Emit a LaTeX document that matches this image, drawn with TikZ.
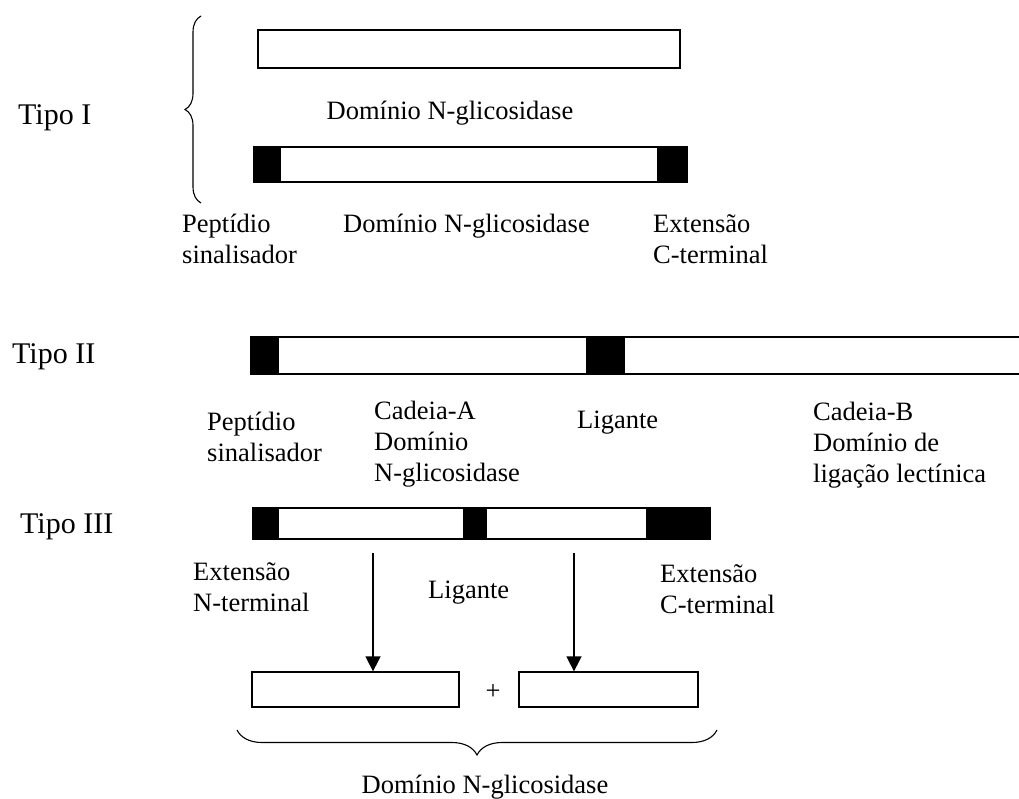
\documentclass[tikz,border=0pt]{standalone}
\usepackage{fontspec}
\setmainfont{Liberation Serif}
\usetikzlibrary{arrows.meta,decorations.pathreplacing}

\begin{document}
\begin{tikzpicture}
[x=1pt,y=-1pt,
 bar/.style={rectangle,draw,fill=white,line width=1.3pt,inner sep=0pt},
 capblock/.style={rectangle,draw,fill=black,line width=1.3pt,inner sep=0pt},
 lbl/.style={inner sep=0pt,font=\fontsize{26.5}{31}\selectfont,align=left},
 tipo/.style={inner sep=0pt,font=\fontsize{30}{34}\selectfont},
 cut/.style={line width=1.5pt,-{Triangle[length=15pt,width=15pt]}},
 curly/.style={decorate,decoration={brace,amplitude=16pt},line width=1.1pt}]
\useasboundingbox (0,0) rectangle (1019,798);
%
\node[tipo,anchor=base west] (tipoI) at (18,124) {Tipo I};
\node[bar,minimum width=422pt,minimum height=38pt] (barIa) at (469,49) {};
\node[lbl,anchor=base] (domIa) at (450,119) {Domínio N-glicosidase};
\node[bar,minimum width=433pt,minimum height=35pt] (barIb) at (470.5,164.5) {};
\node[capblock,minimum width=26pt,minimum height=35pt,anchor=west] (sinalI) at (barIb.west) {};
\node[capblock,minimum width=29pt,minimum height=35pt,anchor=east] (extI) at (barIb.east) {};
\draw[curly] (201,203) -- (201,16);
\node[lbl,anchor=north west] (sinalIlbl) at (182,214) {Peptídio\\sinalisador};
\node[lbl,anchor=north west] (domIb) at (343,214) {Domínio N-glicosidase};
\node[lbl,anchor=north west] (extIlbl) at (653,214) {Extensão\\C-terminal};
%
\node[tipo,anchor=base west] (tipoII) at (12,363) {Tipo II};
\node[bar,minimum width=780pt,minimum height=37pt,anchor=west] (barII) at (250,355.5) {};
\node[capblock,minimum width=28pt,minimum height=37pt,anchor=west] (sinalII) at (barII.west) {};
\node[capblock,minimum width=37pt,minimum height=37pt] (ligII) at (605.5,355.5) {};
\node[lbl,anchor=north west] (sinalIIlbl) at (207,412) {Peptídio\\sinalisador};
\node[lbl,anchor=north west] (cadA) at (374,401) {Cadeia-A\\Domínio\\N-glicosidase};
\node[lbl,anchor=base west] (ligIIlbl) at (577,428) {Ligante};
\node[lbl,anchor=north west] (cadB) at (813,402) {Cadeia-B\\Domínio de\\ligação lectínica};
%
\node[tipo,anchor=base west] (tipoIII) at (20,533) {Tipo III};
\node[bar,minimum width=457pt,minimum height=31pt] (barIII) at (481.5,523.5) {};
\node[capblock,minimum width=25pt,minimum height=31pt,anchor=west] (extN) at (barIII.west) {};
\node[capblock,minimum width=22pt,minimum height=31pt] (ligIII) at (475,523.5) {};
\node[capblock,minimum width=63pt,minimum height=31pt,anchor=east] (extC) at (barIII.east) {};
\node[lbl,anchor=north west] (extNlbl) at (193,562.5) {Extensão\\N-terminal};
\node[lbl,anchor=base west] (ligIIIlbl) at (428,598) {Ligante};
\node[lbl,anchor=north west] (extClbl) at (660,564.5) {Extensão\\C-terminal};
%
\node[bar,minimum width=207pt,minimum height=35pt] (pieceA) at (355.5,689.5) {};
\node[bar,minimum width=179pt,minimum height=35pt] (pieceB) at (608.5,689.5) {};
\node[lbl] (plus) at (493,692) {+};
\coordinate (cutA) at (373,553);
\coordinate (cutB) at (574,553);
\draw[cut] (cutA) -- (cutA |- pieceA.north);
\draw[cut] (cutB) -- (cutB |- pieceB.north);
\draw[curly,decoration={amplitude=25pt}] (717,730) -- (237,730);
\node[lbl,anchor=base] (domIII) at (485,793) {Domínio N-glicosidase};
\end{tikzpicture}
\end{document}
